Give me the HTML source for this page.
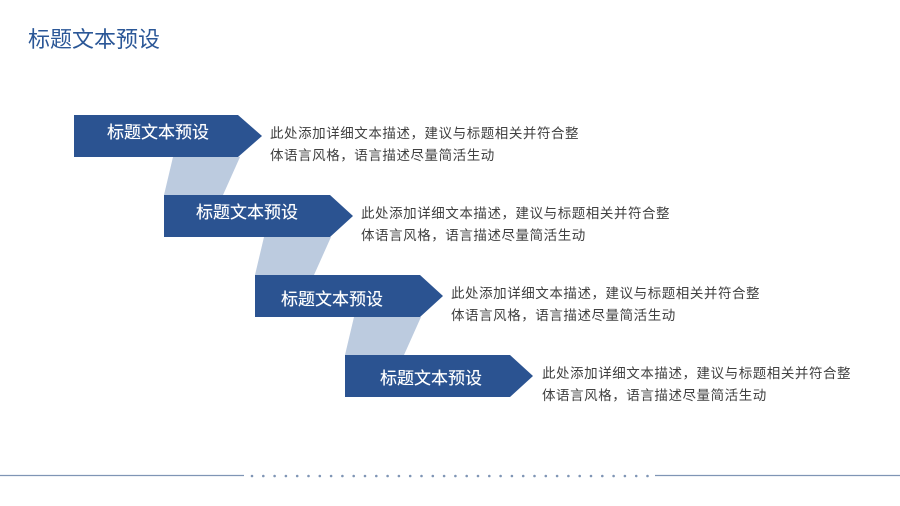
<!DOCTYPE html>
<html><head><meta charset="utf-8"><style>
body{margin:0;width:900px;height:506px;background:#fff;position:relative;overflow:hidden;font-family:"Liberation Sans","Noto Sans CJK SC",sans-serif}
.t{position:absolute;left:28px;top:22px;font-size:22px;color:#2b5797}
.d{position:absolute;font-size:13.5px;line-height:22px;color:#404040;white-space:nowrap;letter-spacing:0.55px}
.h{position:absolute;font-size:17px;color:#fff;white-space:nowrap;text-shadow:0 0 0.4px #fff}
</style></head><body>
<div class="t">标题文本预设</div>
<svg width="900" height="506" style="position:absolute;left:0;top:0">
<g fill="#bccbdf">
<polygon points="173,157 240,157 223,195 164,195"/>
<polygon points="264,237 331,237 314,275 255,275"/>
<polygon points="354,317 421,317 404,355 345,355"/>
</g>
<g fill="#2b5391">
<polygon points="74,115 238,115 262,136 238,157 74,157"/>
<polygon points="164,195 330,195 353,216 330,237 164,237"/>
<polygon points="255,275 420,275 443,296 420,317 255,317"/>
<polygon points="345,355 510,355 533,376 510,397 345,397"/>
</g>
<g stroke="#7f95b5" stroke-width="1.2">
<line x1="0" y1="475.5" x2="244" y2="475.5"/>
<line x1="655" y1="475.5" x2="900" y2="475.5"/>
</g>
</svg>
<div class="h" style="left:107px;top:118px">标题文本预设</div>
<div class="h" style="left:196px;top:198px">标题文本预设</div>
<div class="h" style="left:281px;top:285px">标题文本预设</div>
<div class="h" style="left:380px;top:364px">标题文本预设</div>
<div class="d" style="left:270px;top:123px">此处添加详细文本描述，建议与标题相关并符合整<br>体语言风格，语言描述尽量简活生动</div>
<div class="d" style="left:361px;top:203px">此处添加详细文本描述，建议与标题相关并符合整<br>体语言风格，语言描述尽量简活生动</div>
<div class="d" style="left:451px;top:283px">此处添加详细文本描述，建议与标题相关并符合整<br>体语言风格，语言描述尽量简活生动</div>
<div class="d" style="left:542px;top:363px">此处添加详细文本描述，建议与标题相关并符合整<br>体语言风格，语言描述尽量简活生动</div>
<svg width="900" height="506" style="position:absolute;left:0;top:0">
<g fill="#7f95b5">
<circle cx="252" cy="476" r="1.3"/><circle cx="263.3" cy="476" r="1.3"/><circle cx="274.6" cy="476" r="1.3"/><circle cx="285.9" cy="476" r="1.3"/><circle cx="297.2" cy="476" r="1.3"/><circle cx="308.5" cy="476" r="1.3"/><circle cx="319.8" cy="476" r="1.3"/><circle cx="331.1" cy="476" r="1.3"/><circle cx="342.4" cy="476" r="1.3"/><circle cx="353.7" cy="476" r="1.3"/><circle cx="365" cy="476" r="1.3"/><circle cx="376.3" cy="476" r="1.3"/><circle cx="387.6" cy="476" r="1.3"/><circle cx="398.9" cy="476" r="1.3"/><circle cx="410.2" cy="476" r="1.3"/><circle cx="421.5" cy="476" r="1.3"/><circle cx="432.8" cy="476" r="1.3"/><circle cx="444.1" cy="476" r="1.3"/><circle cx="455.4" cy="476" r="1.3"/><circle cx="466.7" cy="476" r="1.3"/><circle cx="478" cy="476" r="1.3"/><circle cx="489.3" cy="476" r="1.3"/><circle cx="500.6" cy="476" r="1.3"/><circle cx="511.9" cy="476" r="1.3"/><circle cx="523.2" cy="476" r="1.3"/><circle cx="534.5" cy="476" r="1.3"/><circle cx="545.8" cy="476" r="1.3"/><circle cx="557.1" cy="476" r="1.3"/><circle cx="568.4" cy="476" r="1.3"/><circle cx="579.7" cy="476" r="1.3"/><circle cx="591" cy="476" r="1.3"/><circle cx="602.3" cy="476" r="1.3"/><circle cx="613.6" cy="476" r="1.3"/><circle cx="624.9" cy="476" r="1.3"/><circle cx="636.2" cy="476" r="1.3"/><circle cx="647.5" cy="476" r="1.3"/>
</g></svg>
</body></html>
